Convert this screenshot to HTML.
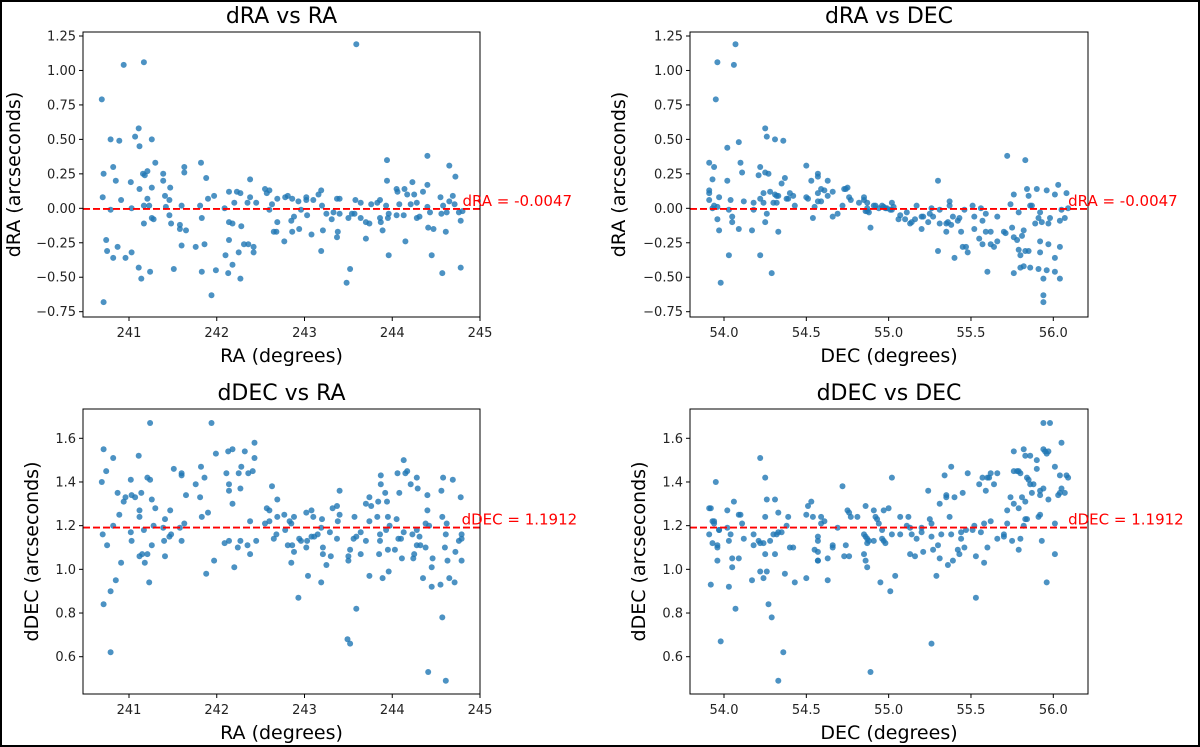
<!DOCTYPE html>
<html><head><meta charset="utf-8"><style>
html,body{margin:0;padding:0;background:#fff}
#wrap{position:relative;width:1200px;height:747px;overflow:hidden}
svg{position:absolute;left:0;top:0}
text{font-family:"DejaVu Sans","Liberation Sans",sans-serif}
</style></head><body>
<div id="wrap">
<svg id="fig" width="1200" height="747" xmlns="http://www.w3.org/2000/svg">
<rect x="1" y="1" width="1198" height="745" fill="none" stroke="#000" stroke-width="2"/>
</svg>
</div>
<script>
const raTL=[240.69,240.94,241.17,243.59,240.71,240.70,240.71,240.74,240.75,240.79,240.79,240.82,240.82,240.85,240.87,240.89,240.91,240.96,241.02,241.03,241.03,241.07,241.11,241.12,241.11,241.12,241.14,241.16,241.17,241.17,241.18,241.21,241.21,241.23,241.24,241.26,241.26,241.26,241.28,241.30,241.39,241.39,241.41,241.42,241.46,241.47,241.46,241.48,241.51,241.60,241.58,241.58,241.60,241.63,241.63,241.65,241.76,241.81,241.82,241.83,241.83,241.86,241.88,241.90,241.94,241.97,241.99,242.09,242.10,242.13,242.14,242.14,242.14,242.18,242.18,242.20,242.23,242.25,242.27,242.27,242.28,242.31,242.35,242.36,242.38,242.38,242.42,242.42,242.45,242.55,242.57,242.60,242.60,242.63,242.65,242.68,242.69,242.69,242.77,242.78,242.81,242.85,242.86,242.86,242.88,242.93,242.94,242.96,243.02,243.02,243.03,243.08,243.10,243.16,243.19,243.19,243.20,243.21,243.25,243.31,243.33,243.37,243.37,243.38,243.40,243.40,243.48,243.50,243.52,243.54,243.58,243.57,243.64,243.64,243.70,243.70,243.74,243.76,243.83,243.86,243.86,243.87,243.89,243.93,243.94,243.94,243.95,243.96,243.96,244.05,244.06,244.05,244.08,244.13,244.14,244.15,244.17,244.21,244.23,244.25,244.28,244.28,244.31,244.35,244.40,244.40,244.41,244.40,244.43,244.45,244.47,244.55,244.56,244.57,244.58,244.61,244.62,244.65,244.65,244.69,244.72,244.71,244.76,244.78,244.78,244.80];
const draTL=[0.79,1.04,1.06,1.19,0.25,0.08,-0.68,-0.23,-0.31,0.50,-0.01,0.30,-0.36,0.20,-0.28,0.49,0.06,-0.36,0.19,0.00,-0.32,0.52,0.58,0.45,-0.43,0.14,-0.51,0.25,0.02,-0.11,0.24,0.27,0.07,0.02,-0.46,0.50,0.15,-0.07,-0.08,0.33,0.20,0.25,0.09,0.01,0.06,0.15,-0.05,-0.11,-0.44,0.02,-0.12,-0.15,-0.27,0.30,0.26,-0.16,-0.28,0.02,0.33,-0.07,-0.46,-0.26,0.22,0.07,-0.63,0.09,-0.45,0.00,-0.34,-0.47,0.12,-0.23,-0.10,-0.11,-0.41,0.04,0.12,-0.32,0.11,-0.51,-0.13,-0.26,0.04,-0.26,0.21,0.08,-0.28,-0.32,0.04,0.14,0.11,0.13,-0.01,0.03,-0.17,-0.17,0.07,-0.10,-0.24,0.08,0.09,-0.09,0.07,-0.17,-0.06,0.05,-0.15,-0.01,0.06,0.08,-0.05,-0.19,0.06,0.10,0.13,-0.31,0.02,-0.16,-0.04,-0.08,-0.03,0.07,-0.21,-0.17,0.07,-0.04,-0.54,-0.07,-0.44,-0.04,0.06,-0.04,0.04,-0.07,-0.22,-0.10,-0.11,0.03,0.04,0.06,-0.07,-0.10,-0.16,0.02,0.35,0.20,-0.07,-0.04,-0.34,0.14,0.12,-0.05,0.03,-0.05,0.14,-0.24,0.10,0.03,0.19,0.10,0.04,-0.07,-0.06,0.12,0.38,0.17,-0.14,0.01,-0.03,-0.34,-0.15,0.08,-0.04,-0.47,0.02,-0.17,-0.03,0.31,0.05,0.09,0.23,0.03,-0.03,-0.43,-0.09,-0.02];
const raBL=[240.69,240.71,240.70,240.71,240.74,240.75,240.79,240.79,240.82,240.82,240.85,240.87,240.89,240.91,240.94,240.96,241.02,241.02,241.03,241.03,241.07,241.11,241.12,241.12,241.12,241.14,241.15,241.17,241.18,241.21,241.21,241.23,241.24,241.24,241.26,241.26,241.28,241.30,241.39,241.41,241.40,241.41,241.46,241.47,241.48,241.51,241.58,241.60,241.60,241.60,241.63,241.65,241.76,241.81,241.82,241.83,241.86,241.88,241.90,241.94,241.97,241.99,242.09,242.11,242.13,242.14,242.14,242.14,242.18,242.18,242.20,242.24,242.25,242.27,242.27,242.28,242.32,242.35,242.36,242.38,242.38,242.41,242.43,242.43,242.45,242.55,242.57,242.60,242.60,242.63,242.65,242.68,242.69,242.69,242.77,242.78,242.81,242.83,242.85,242.85,242.86,242.88,242.88,242.93,242.94,242.96,243.02,243.02,243.04,243.03,243.08,243.08,243.10,243.11,243.15,243.19,243.19,243.20,243.21,243.21,243.25,243.29,243.30,243.32,243.37,243.37,243.38,243.40,243.40,243.49,243.52,243.50,243.50,243.52,243.57,243.56,243.59,243.59,243.64,243.64,243.70,243.70,243.74,243.74,243.74,243.76,243.83,243.84,243.85,243.86,243.86,243.87,243.87,243.89,243.92,243.93,243.94,243.95,243.95,243.96,243.97,244.03,244.05,244.06,244.07,244.08,244.10,244.11,244.13,244.13,244.15,244.17,244.21,244.23,244.24,244.25,244.28,244.28,244.28,244.29,244.31,244.32,244.35,244.38,244.38,244.40,244.40,244.41,244.42,244.45,244.45,244.46,244.55,244.56,244.57,244.57,244.58,244.60,244.61,244.61,244.62,244.63,244.65,244.69,244.71,244.72,244.76,244.78,244.79,244.79,244.79];
const ddecBL=[1.40,1.55,1.16,0.84,1.45,1.11,0.90,0.62,1.51,1.20,0.95,1.35,1.25,1.03,1.31,1.33,1.41,1.17,1.34,1.13,1.33,1.52,1.24,1.27,1.06,1.35,1.07,1.18,1.03,1.42,1.07,0.94,1.67,1.41,1.32,1.11,1.20,1.28,1.19,1.23,1.13,1.06,1.15,1.27,1.16,1.46,1.19,1.44,1.43,1.13,1.21,1.34,1.39,1.33,1.47,1.24,1.42,0.98,1.26,1.67,1.04,1.53,1.12,1.44,1.54,1.39,1.13,1.36,1.55,1.30,1.01,1.10,1.44,1.13,1.37,1.47,1.54,1.11,1.44,1.22,1.07,1.45,1.58,1.51,1.13,1.21,1.28,1.27,1.22,1.38,1.14,1.16,1.32,1.24,1.25,1.18,1.11,1.22,1.21,1.03,1.11,1.24,1.08,0.87,1.14,1.13,1.26,1.10,0.97,1.13,1.27,1.15,1.24,1.15,1.16,0.94,1.19,1.23,1.10,1.07,1.02,1.17,1.06,1.28,1.29,1.14,1.22,1.25,1.36,0.68,0.66,1.06,1.04,1.09,1.24,1.14,1.15,0.82,1.17,1.07,1.30,1.13,1.33,1.22,0.97,1.29,1.24,1.31,1.07,1.16,1.13,1.43,1.39,0.96,1.35,1.18,1.31,1.24,1.09,0.99,1.20,1.09,1.23,1.44,1.14,1.35,1.14,1.05,1.50,1.17,1.44,1.45,1.39,1.16,1.05,1.07,1.42,1.18,1.11,1.37,1.15,1.11,0.96,1.10,1.21,1.34,1.27,0.53,1.20,0.92,1.01,1.05,0.93,1.36,1.24,0.78,1.42,1.10,1.16,0.49,1.21,1.04,0.96,1.41,0.94,1.08,1.13,1.33,1.04,1.14,1.16];
const decTR=[53.91,53.91,53.91,53.91,53.93,53.93,53.94,53.94,53.95,53.96,53.96,53.97,53.96,53.97,53.98,54.02,54.02,54.03,54.03,54.04,54.05,54.05,54.06,54.07,54.09,54.09,54.10,54.11,54.12,54.17,54.18,54.18,54.21,54.22,54.22,54.22,54.24,54.24,54.25,54.25,54.25,54.26,54.27,54.26,54.28,54.29,54.30,54.31,54.31,54.32,54.32,54.33,54.33,54.35,54.36,54.37,54.38,54.39,54.40,54.42,54.43,54.50,54.50,54.51,54.53,54.54,54.55,54.57,54.57,54.57,54.57,54.59,54.59,54.61,54.63,54.63,54.66,54.66,54.69,54.72,54.73,54.74,54.75,54.76,54.77,54.82,54.85,54.85,54.86,54.87,54.87,54.87,54.88,54.89,54.91,54.92,54.94,54.96,54.97,54.98,54.99,55.01,55.02,55.02,55.03,55.06,55.07,55.10,55.11,55.13,55.14,55.16,55.17,55.20,55.20,55.21,55.24,55.25,55.26,55.27,55.30,55.30,55.31,55.31,55.35,55.35,55.36,55.37,55.37,55.38,55.39,55.40,55.42,55.43,55.44,55.45,55.46,55.47,55.48,55.51,55.52,55.52,55.55,55.56,55.57,55.57,55.59,55.59,55.60,55.62,55.62,55.64,55.66,55.66,55.70,55.71,55.72,55.74,55.75,55.76,55.76,55.76,55.78,55.79,55.79,55.80,55.80,55.81,55.82,55.82,55.83,55.83,55.84,55.85,55.85,55.86,55.86,55.87,55.89,55.90,55.91,55.91,55.92,55.92,55.92,55.93,55.94,55.94,55.94,55.96,55.96,55.97,55.97,55.98,56.01,56.01,56.01,56.03,56.04,56.04,56.04,56.05,56.07,56.08,56.09];
const draTR=[0.33,0.13,0.11,0.06,0.21,0.00,0.30,0.02,0.79,1.06,-0.08,-0.16,0.01,0.08,-0.54,0.44,0.20,-0.01,-0.34,0.06,-0.06,-0.10,1.04,1.19,-0.15,0.48,0.33,0.26,0.05,-0.16,0.04,-0.01,0.24,0.30,-0.34,0.07,0.11,0.04,-0.10,0.58,0.26,0.52,0.25,-0.04,0.12,-0.47,0.04,0.50,0.10,0.09,0.04,-0.17,0.09,0.18,0.49,0.22,0.07,0.07,0.11,0.09,0.02,0.31,0.08,0.07,0.20,-0.07,0.01,0.25,0.23,0.05,0.11,0.05,0.14,0.13,0.20,0.09,0.12,-0.06,-0.04,0.02,0.14,0.14,0.15,0.08,0.06,0.04,0.08,0.06,-0.02,0.04,0.00,-0.02,-0.03,-0.14,0.02,0.02,0.00,0.02,0.01,0.00,0.00,-0.01,0.04,-0.01,0.01,-0.08,-0.05,-0.08,-0.03,-0.11,-0.10,-0.08,0.02,-0.06,-0.15,-0.06,-0.10,-0.04,0.00,-0.06,-0.31,0.20,-0.01,-0.11,-0.11,-0.17,-0.10,0.02,0.05,-0.12,-0.06,-0.36,-0.09,-0.07,-0.17,-0.28,-0.01,-0.28,-0.32,0.02,-0.06,-0.15,-0.22,0.00,-0.26,-0.09,-0.04,-0.17,-0.46,-0.17,-0.26,-0.28,-0.06,-0.24,-0.17,-0.18,0.38,0.03,-0.14,0.10,-0.47,-0.21,-0.23,-0.03,-0.30,-0.34,-0.43,-0.20,-0.16,-0.42,-0.31,0.35,0.14,-0.31,0.09,0.02,-0.43,0.02,-0.11,0.14,-0.44,-0.07,-0.03,-0.32,-0.24,-0.10,-0.51,-0.63,-0.68,0.13,-0.45,-0.11,-0.26,-0.07,-0.46,0.10,-0.36,0.17,-0.51,-0.09,-0.28,-0.01,-0.07,0.11,0.00];
const decBR=[53.91,53.92,53.91,53.92,53.93,53.93,53.94,53.94,53.95,53.96,53.96,53.96,53.97,53.97,53.98,54.02,54.02,54.03,54.03,54.04,54.05,54.05,54.06,54.07,54.09,54.09,54.10,54.11,54.12,54.17,54.18,54.18,54.21,54.22,54.22,54.22,54.24,54.24,54.25,54.25,54.25,54.26,54.26,54.27,54.28,54.29,54.30,54.31,54.31,54.32,54.33,54.33,54.33,54.35,54.36,54.37,54.38,54.39,54.40,54.42,54.43,54.50,54.50,54.51,54.53,54.54,54.55,54.57,54.57,54.57,54.57,54.57,54.59,54.59,54.61,54.63,54.63,54.66,54.66,54.69,54.72,54.73,54.74,54.75,54.76,54.77,54.76,54.81,54.85,54.85,54.86,54.86,54.86,54.87,54.87,54.87,54.88,54.89,54.91,54.91,54.92,54.93,54.94,54.95,54.96,54.96,54.97,54.98,54.97,55.00,55.01,55.02,55.02,55.04,55.07,55.07,55.11,55.12,55.13,55.13,55.14,55.16,55.17,55.20,55.20,55.21,55.24,55.25,55.26,55.26,55.26,55.27,55.29,55.30,55.31,55.31,55.32,55.34,55.35,55.35,55.36,55.37,55.38,55.38,55.39,55.40,55.42,55.43,55.44,55.44,55.45,55.46,55.47,55.48,55.51,55.52,55.53,55.53,55.55,55.56,55.57,55.58,55.58,55.59,55.60,55.60,55.61,55.62,55.62,55.64,55.66,55.66,55.70,55.70,55.72,55.72,55.74,55.75,55.76,55.76,55.76,55.78,55.79,55.79,55.79,55.80,55.80,55.81,55.82,55.82,55.83,55.83,55.83,55.84,55.84,55.85,55.86,55.86,55.87,55.88,55.90,55.90,55.91,55.92,55.92,55.92,55.93,55.94,55.94,55.94,55.95,55.96,55.96,55.97,55.97,55.98,56.01,56.01,56.01,56.03,56.04,56.04,56.05,56.05,56.07,56.08,56.09];
const ddecBR=[1.28,1.28,1.16,0.93,1.22,1.12,1.22,1.21,1.40,1.10,1.11,1.04,1.18,1.18,0.67,1.27,1.19,1.13,0.92,1.16,1.05,1.01,1.31,0.82,1.05,1.25,1.25,1.21,1.14,0.95,1.16,1.11,1.13,1.51,0.99,1.12,0.96,1.12,1.42,1.07,1.24,0.99,1.32,0.84,1.13,0.78,1.16,1.32,1.07,1.16,0.49,1.26,1.17,1.17,0.62,0.98,1.20,1.24,1.10,1.10,0.94,0.96,1.25,1.29,1.31,1.24,1.09,1.15,1.13,1.08,1.04,1.04,1.24,1.21,1.22,1.05,0.95,1.11,1.10,1.19,1.38,1.06,1.11,1.27,1.26,1.24,1.06,1.24,1.07,1.16,1.15,1.29,1.04,1.01,1.14,1.12,1.13,0.53,1.13,1.27,1.24,1.23,1.21,0.94,1.18,1.14,1.13,1.12,1.27,1.28,0.90,1.42,1.16,0.97,1.24,1.16,1.20,1.24,1.07,1.19,1.16,1.06,1.14,1.19,1.17,1.08,1.36,1.23,0.66,1.21,1.15,1.09,0.97,1.11,1.05,1.30,1.16,1.43,1.34,1.33,1.02,1.24,1.16,1.47,1.04,1.33,1.09,1.07,1.17,1.14,1.35,1.10,1.18,1.44,1.18,1.20,1.06,0.87,1.39,1.17,1.42,1.21,1.03,1.36,1.42,1.10,1.42,1.22,1.44,1.39,1.44,1.14,1.15,1.16,1.27,1.21,1.33,1.13,1.30,1.54,1.45,1.45,1.45,1.28,1.09,1.44,1.14,1.33,1.20,1.55,1.52,1.23,1.31,1.23,1.42,1.41,1.52,1.39,1.35,1.39,1.50,1.46,1.24,1.36,1.34,1.25,1.13,1.67,1.55,1.37,1.54,0.94,1.53,1.54,1.32,1.67,1.47,1.21,1.07,1.34,1.35,1.43,1.58,1.37,1.35,1.43,1.42];
const raTicks=[241,242,243,244,245];
const decTicks=[54.0,54.5,55.0,55.5,56.0];
const draTicks=[-0.75,-0.5,-0.25,0,0.25,0.5,0.75,1.0,1.25];
const ddecTicks=[0.6,0.8,1.0,1.2,1.4,1.6];
const meanDRA=-0.0047;
const meanDDEC=1.1912;

const NS="http://www.w3.org/2000/svg";
const svg=document.getElementById('fig');
function mk(tag,attrs,parent){const e=document.createElementNS(NS,tag);for(const k in attrs)e.setAttribute(k,attrs[k]);(parent||svg).appendChild(e);return e;}
function lin(d0,d1,r0,r1){return v=>r0+(v-d0)*(r1-r0)/(d1-d0);}
const fmtM=s=>s.replace('-','\u2212');

function panel(o){
  const g=mk('g',{});
  
  
  const X=lin(o.xd[0],o.xd[1],o.xr[0],o.xr[1]);
  const Y=lin(o.yd[0],o.yd[1],o.yr[0],o.yr[1]);
  const L=o.box[0],R=o.box[1],T=o.box[2],B=o.box[3];
  const pts=mk('g',{},g);
  
  
  const n=Math.min(o.xs.length,o.ys.length);
  for(let i=0;i<n;i++){
    const c=mk('circle',{cx:X(o.xs[i]).toFixed(1),cy:Y(o.ys[i]).toFixed(1),r:3,fill:'#1f77b4','fill-opacity':0.8},pts);
    
    
  }
  const ml=mk('line',{x1:L,x2:R,y1:Y(o.mean),y2:Y(o.mean),stroke:'#ff0000','stroke-width':1.8,'stroke-dasharray':'7,3'},g);
  
  
  const fr=mk('rect',{x:L,y:T,width:R-L,height:B-T,fill:'none',stroke:'#000','stroke-width':1},g);
  
  
  o.xt.forEach(v=>{
    const x=X(v);
    mk('line',{x1:x,x2:x,y1:B,y2:B+4,stroke:'#000'},g);
    const t=mk('text',{x:x,y:B+20,'text-anchor':'middle','font-size':13,fill:'#222'},g);
    t.textContent=o.xfmt(v);
    
    
  });
  o.yt.forEach(v=>{
    const y=Y(v);
    mk('line',{x1:L-4,x2:L,y1:y,y2:y,stroke:'#000'},g);
    const t=mk('text',{x:L-7,y:y+4.5,'text-anchor':'end','font-size':13,fill:'#222'},g);
    t.textContent=fmtM(o.yfmt(v));
    
    
  });
  const ti=mk('text',{x:(L+R)/2,y:T-9,'text-anchor':'middle','font-size':22,fill:'#000'},g);
  ti.textContent=o.title;
  
  
  const xl=mk('text',{x:(L+R)/2,y:B+45,'text-anchor':'middle','font-size':19,fill:'#000'},g);
  xl.textContent=o.xlab;
  
  
  const yl=mk('text',{x:0,y:0,'text-anchor':'middle','font-size':19,fill:'#000',transform:`translate(${o.ylx},${(T+B)/2}) rotate(-90)`},g);
  yl.textContent=o.ylab;
  
  
  const lab=mk('text',{x:X(Math.max(...o.xs)),y:Y(o.mean)-3,'font-size':15,fill:'#ff0000'},g);
  lab.textContent=o.meanLabel;
  
  
}
const f2=v=>v.toFixed(2), f1=v=>v.toFixed(1), f0=v=>String(v);
panel({name:'panel-dra-vs-ra',xs:raTL,ys:draTL,xd:[241,245],xr:[129,480],yd:[1.25,-0.75],yr:[36,311.7],box:[83,480,32,317],xt:raTicks,yt:draTicks,xfmt:f0,yfmt:f2,title:'dRA vs RA',xlab:'RA (degrees)',ylab:'dRA (arcseconds)',ylx:20,mean:meanDRA,meanLabel:'dRA = -0.0047'});
panel({name:'panel-dra-vs-dec',xs:decTR,ys:draTR,xd:[54,56],xr:[724,1053.3],yd:[1.25,-0.75],yr:[36,311.7],box:[690,1088,32,317],xt:decTicks,yt:draTicks,xfmt:f1,yfmt:f2,title:'dRA vs DEC',xlab:'DEC (degrees)',ylx:625,ylab:'dRA (arcseconds)',mean:meanDRA,meanLabel:'dRA = -0.0047'});
panel({name:'panel-ddec-vs-ra',xs:raBL,ys:ddecBL,xd:[241,245],xr:[129,480],yd:[1.6,0.6],yr:[438.3,656.7],box:[83,480,409,694],xt:raTicks,yt:ddecTicks,xfmt:f0,yfmt:f1,title:'dDEC vs RA',xlab:'RA (degrees)',ylab:'dDEC (arcseconds)',ylx:38,mean:meanDDEC,meanLabel:'dDEC = 1.1912'});
panel({name:'panel-ddec-vs-dec',xs:decBR,ys:ddecBR,xd:[54,56],xr:[724,1053.3],yd:[1.6,0.6],yr:[438.3,656.7],box:[690,1088,409,694],xt:decTicks,yt:ddecTicks,xfmt:f1,yfmt:f1,title:'dDEC vs DEC',xlab:'DEC (degrees)',ylab:'dDEC (arcseconds)',ylx:645,mean:meanDDEC,meanLabel:'dDEC = 1.1912'});
</script>
</body></html>
